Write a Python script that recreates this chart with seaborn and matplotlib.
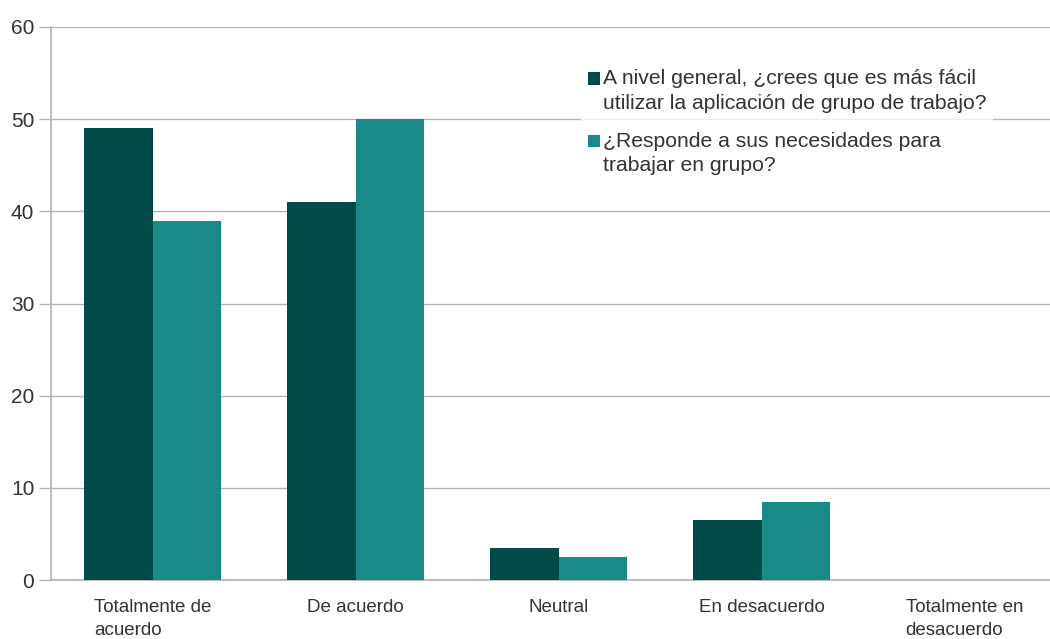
import matplotlib
matplotlib.use("Agg")
import matplotlib.pyplot as plt
import matplotlib.patches as mpatches
from matplotlib.legend_handler import HandlerPatch
import seaborn as sns
import pandas as pd
import numpy as np

categories = ["Totalmente de\nacuerdo", "De acuerdo", "Neutral", "En desacuerdo", "Totalmente en\ndesacuerdo"]
series_names = [
    "A nivel general, ¿crees que es más fácil\nutilizar la aplicación de grupo de trabajo?",
    "¿Responde a sus necesidades para\ntrabajar en grupo?",
]
values_facil = [49, 41, 3.5, 6.5, 0]
values_necesidades = [39, 50, 2.5, 8.5, 0]
colors = ["#004a48", "#1a8a88"]
y_ticks = [0, 10, 20, 30, 40, 50, 60]

df = pd.DataFrame({
    "categoria": categories * 2,
    "serie": [series_names[0]] * len(categories) + [series_names[1]] * len(categories),
    "valor": values_facil + values_necesidades,
})

sns.set_theme(style="white")
plt.rcParams["font.family"] = ["Liberation Sans", "DejaVu Sans"]
text_color = "#333333"
grid_color = "#b3b3b3"

fig = plt.figure(figsize=(10.5, 6.39), dpi=100)
ax = fig.add_axes([51 / 1050, 1 - 580 / 639, 1 - 51 / 1050, (580 - 27) / 639])

sns.barplot(data=df, x="categoria", y="valor", hue="serie", order=categories,
            hue_order=series_names, palette=colors, width=0.67, saturation=1,
            linewidth=0, ax=ax, zorder=3)

ax.set_ylim(0, 60)
ax.set_xlim(-0.5, -0.5 + (1050 - 51) / 203)
ax.set_yticks(y_ticks)
ax.set_yticklabels([str(t) for t in y_ticks])
ax.yaxis.grid(True, color=grid_color, linewidth=1, zorder=0)
ax.set_axisbelow(True)

ax.set_xticks(range(len(categories)))
ax.set_xticklabels(categories, linespacing=1.45, multialignment="left")
ax.tick_params(axis="x", which="major", length=0, pad=14, labelsize=13.5, labelcolor=text_color)
ax.set_xticks(np.arange(-0.5, len(categories) - 0.5, 1.0), minor=True)
ax.tick_params(axis="x", which="minor", length=8, width=1, color=grid_color, direction="out")
ax.tick_params(axis="y", length=9, width=1, color=grid_color, direction="out", pad=3,
               left=True, labelsize=15, labelcolor=text_color)

ax.set_xlabel("")
ax.set_ylabel("")
for side in ["top", "right"]:
    ax.spines[side].set_visible(False)
ax.spines["left"].set_color(grid_color)
ax.spines["bottom"].set_color(grid_color)


def top_square(legend, orig_handle, xdescent, ydescent, width, height, fontsize):
    # small square key placed level with the first line of the label
    size = 0.6 * fontsize
    return mpatches.Rectangle((-xdescent, -ydescent + height - size + 0.15 * fontsize), size, size)


handles, labels = ax.get_legend_handles_labels()
leg = ax.legend(handles, labels, loc="upper left", bbox_to_anchor=(0.531, 0.935), frameon=True,
                fontsize=15.2, handlelength=0.6, handleheight=2.05, handletextpad=0.12,
                borderpad=0.3, labelspacing=0.92, borderaxespad=0,
                handler_map={mpatches.Rectangle: HandlerPatch(patch_func=top_square)})
leg.get_frame().set_facecolor("white")
leg.get_frame().set_edgecolor("white")
leg.get_frame().set_linewidth(0)
for t in leg.get_texts():
    t.set_color(text_color)
    t.set_linespacing(1.35)

fig.savefig("out.png", dpi=100)
